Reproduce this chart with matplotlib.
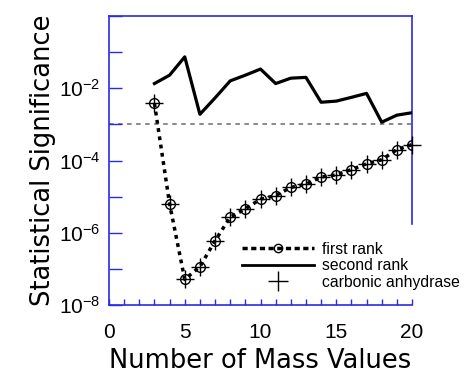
import numpy as np
import matplotlib
matplotlib.use("Agg")
import matplotlib.pyplot as plt
from matplotlib.lines import Line2D

plt.rcParams["font.family"] = ["Liberation Sans", "DejaVu Sans"]
plt.rcParams["mathtext.fontset"] = "custom"
plt.rcParams["mathtext.rm"] = "Liberation Sans"
plt.rcParams["mathtext.default"] = "regular"

# number of mass values used in the search
n_mass = [3, 4, 5, 6, 7, 8, 9, 10, 11, 12, 13, 14, 15, 16, 17, 18, 19, 20]

first_rank = [3.8e-3, 6.3e-6, 5.1e-8, 1.15e-7, 6.0e-7, 2.7e-6, 4.6e-6, 8.5e-6,
              1.07e-5, 1.8e-5, 2.2e-5, 3.5e-5, 4.0e-5, 5.6e-5, 8.1e-5, 1.05e-4,
              2.0e-4, 2.75e-4]
second_rank = [1.35e-2, 2.3e-2, 7.4e-2, 1.9e-3, 5.4e-3, 1.6e-2, 2.3e-2, 3.4e-2,
               1.35e-2, 1.9e-2, 2.0e-2, 4.1e-3, 4.4e-3, 5.6e-3, 7.2e-3, 1.15e-3,
               1.8e-3, 2.1e-3]
carbonic_anhydrase = list(first_rank)

threshold = 1e-3
blue = "#2a2ae6"

fig = plt.figure(figsize=(4.68, 3.78), dpi=100)
ax = fig.add_axes([109 / 468, 1 - 305 / 378, 303 / 468, 289 / 378])

ax.axhline(threshold, color="#808080", lw=1.3, ls=(0, (2.5, 2.5)), zorder=1)
ax.plot(n_mass, second_rank, color="black", lw=2.3, zorder=3)
ax.plot(n_mass, first_rank, color="black", lw=2.5, ls=(0, (1.1, 1.3)),
        marker="o", ms=7, mfc="none", mec="black", mew=1.0, zorder=3)
ax.plot(n_mass, carbonic_anhydrase, ls="none", marker="+", ms=13,
        mec="black", mew=1.0, zorder=4, clip_on=False)

ax.set_yscale("log")
ax.set_xlim(0, 20)
ax.set_ylim(1e-8, 1)

ax.set_yticks([10.0 ** k for k in range(-8, 1)])
ax.set_yticklabels([f"10$^{{{k}}}$" if k % 2 == 0 and k < 0 else "" for k in range(-8, 1)])
ax.yaxis.set_minor_locator(matplotlib.ticker.NullLocator())
ax.set_xticks([0, 5, 10, 15, 20])
ax.set_xticks(np.arange(0, 21, 1), minor=True)

ax.tick_params(axis="y", which="major", direction="in", length=9, width=1,
               color=blue, labelsize=15, pad=6)
ax.tick_params(axis="x", which="both", direction="in", length=4, width=1,
               color=blue, labelsize=15, pad=13)

for side in ["left", "right", "top", "bottom"]:
    ax.spines[side].set_color(blue)
    ax.spines[side].set_linewidth(1.2)
ax.spines["right"].set_bounds(10 ** -5.75, 1)

ax.set_xlabel("Number of Mass Values", fontsize=18.5, family="DejaVu Sans", labelpad=4)
ax.set_ylabel("Statistical Significance", fontsize=18.5, family="DejaVu Sans", labelpad=2)

handles = [
    Line2D([], [], color="black", lw=2.5, ls=(0, (1.5, 1.0)), marker="o", ms=6,
           mfc="none", mec="black", mew=1.0),
    Line2D([], [], color="black", lw=2.0),
    Line2D([], [], ls="none", marker="+", ms=14, mec="black", mew=1.0),
]
fig.legend(handles, ["first rank", "second rank", "carbonic anhydrase"],
           loc="upper left", bbox_to_anchor=(234 / 468, 1 - 234 / 378),
           fontsize=11.3, frameon=False, handlelength=4.6, handletextpad=0.5,
           labelspacing=0.1, borderpad=0, numpoints=1)

fig.savefig("out.png", dpi=100)
